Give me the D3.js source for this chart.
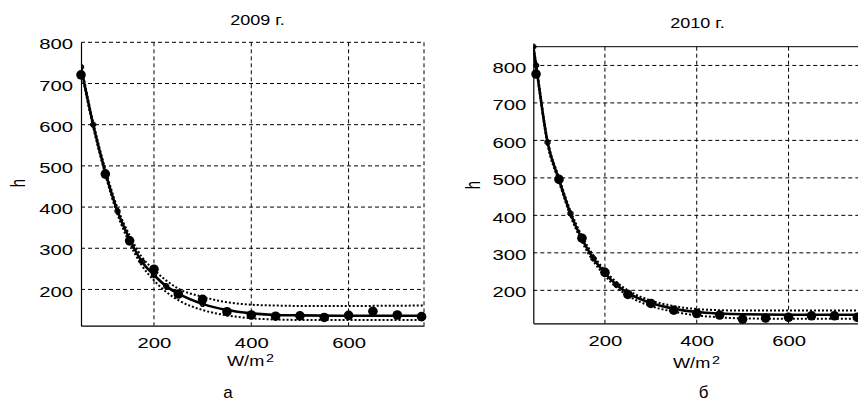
<!DOCTYPE html>
<html><head><meta charset="utf-8">
<script src="https://cdn.jsdelivr.net/npm/d3@7"></script>
<style>
body{margin:0;background:#fff;}
svg{display:block;font-family:"Liberation Sans",Arial,sans-serif;}
text{fill:#000;}
</style></head><body>
<svg id="c" width="858" height="403"></svg>
<script>
// ---------- data ----------
const xObs = [50,100,150,200,250,300,350,400,450,500,550,600,650,700,750];
const h2009 = [721,480,318,249,189,176,146,138,135,136,132,137,147,138,134];
const h2010 = [777,496,339,248,189,165,147,138,134,123,126,128,132,132,128];

const xFit2009 = [50,75,100,125,150,175,200,225,250,300,350,400,450,500,600,755];
const fit2009  = [740,600,485,390,322,268,235,208,190,165,150,142,138,137,136,136];
const up2009   = [746,606,492,398,331,279,248,222,202,182,169,163,161,160,160,161];
const lo2009   = [734,594,478,382,312,258,222,194,174,150,137,130,127,126,126,126];

const xFit2010 = [44,50,75,100,125,150,175,200,225,250,300,350,400,450,500,600,760];
const fit2010  = [850,800,595,495,405,337,285,246,215,193,166,151,142,138,136,135,135];
const up2010   = [856,806,601,501,412,345,293,253,222,200,173,158,150,147,146,146,146];
const lo2010   = [844,794,589,489,398,329,277,239,208,186,158,143,133,128,125,124,124];

const yTicks = [200,300,400,500,600,700,800];
const xTicks = [200,400,600];
const titles = ["2009 г.","2010 г."];
const captions = ["а","б"];
const yLabel = "h";

const svg = d3.select("#c");
const SX = 1.4;

function stext(g, x, y, str, size, anchor, sx){
  return g.append("text")
    .attr("transform", `translate(${x},${y}) scale(${sx},1)`)
    .attr("text-anchor", anchor).style("font-size", size+"px").text(str);
}

function panel(cfg){
  const g = svg.append("g");
  const x = d3.scaleLinear().domain(cfg.xDom).range([cfg.left, cfg.right]);
  const y = d3.scaleLinear().domain(cfg.yDom).range([cfg.bottom, cfg.top]);

  // grid
  g.append("g").selectAll("line").data(yTicks).join("line")
    .attr("x1", cfg.left).attr("x2", cfg.right)
    .attr("y1", d=>y(d)).attr("y2", d=>y(d))
    .attr("stroke","#000").attr("stroke-width",1).attr("stroke-dasharray","4,3");
  g.append("g").selectAll("line").data(xTicks).join("line")
    .attr("x1", d=>x(d)).attr("x2", d=>x(d))
    .attr("y1", cfg.top).attr("y2", cfg.bottom)
    .attr("stroke","#000").attr("stroke-width",1).attr("stroke-dasharray","4,3");

  // box edges
  if (cfg.rightDashed){
    g.append("line").attr("x1",cfg.right).attr("x2",cfg.right).attr("y1",cfg.top).attr("y2",cfg.bottom)
      .attr("stroke","#000").attr("stroke-dasharray","4,3");
  }
  if (cfg.topSolid){
    g.append("line").attr("x1",cfg.left).attr("x2",cfg.right).attr("y1",cfg.top).attr("y2",cfg.top)
      .attr("stroke","#000").attr("stroke-width",1);
  }

  // axes
  const ax = g.append("g").attr("transform",`translate(0,${cfg.bottom})`)
    .call(d3.axisBottom(x).tickValues(xTicks).tickSize(0).tickSizeOuter(0));
  ax.select(".domain").attr("stroke","#000").attr("stroke-width",1.2);
  ax.selectAll("text").attr("y",0).attr("dy",null)
    .attr("transform",`translate(0,${cfg.xLabDy}) scale(${SX},1)`)
    .style("font-size","14.5px").attr("font-family",null);

  const ay = g.append("g").attr("transform",`translate(${cfg.left},0)`)
    .call(d3.axisLeft(y).tickValues(yTicks).tickSize(0).tickSizeOuter(0));
  ay.select(".domain").attr("stroke","#000").attr("stroke-width",1.2);
  ay.selectAll("text").attr("x",0)
    .attr("transform",`translate(${-cfg.yLabGap},2) scale(${SX},1)`)
    .style("font-size","14.5px").attr("font-family",null);

  // curves
  const clip = "clip"+cfg.id;
  g.append("clipPath").attr("id",clip).append("rect")
    .attr("x",cfg.left).attr("y",cfg.top-4).attr("width",cfg.right-cfg.left+10).attr("height",cfg.bottom-cfg.top+4);
  const cg = g.append("g").attr("clip-path",`url(#${clip})`);
  const mk = arr => d3.line().x((d,i)=>x(cfg.xFit[i])).y(d=>y(d)).curve(d3.curveMonotoneX)(arr);
  [cfg.up, cfg.lo].forEach(a=>{
    cg.append("path").attr("d",mk(a)).attr("fill","none").attr("stroke","#000")
      .attr("stroke-width",2).attr("stroke-dasharray","2,2");
  });
  cg.append("path").attr("d",mk(cfg.fit)).attr("fill","none").attr("stroke","#000").attr("stroke-width",2.6);
  // small asterisk markers along the fitted curve (steep part)
  const star = cfg.xFit.map((xv,i)=>({xv, yv:cfg.fit[i]})).filter(d=>d.xv<=300);
  [d3.symbolCross, d3.symbolX].forEach(sym=>{
    cg.append("g").selectAll("path").data(star).join("path")
      .attr("transform",d=>`translate(${x(d.xv)},${y(d.yv)})`)
      .attr("d",d3.symbol().type(sym).size(14))
      .attr("fill","none").attr("stroke","#000").attr("stroke-width",1.2);
  });

  // observed points
  g.append("g").selectAll("circle").data(cfg.obs).join("circle")
    .attr("cx",(d,i)=>x(xObs[i])).attr("cy",d=>y(d)).attr("r",4.8).attr("fill","#000");

  // texts
  stext(g, cfg.titleX, cfg.titleY, cfg.title, 15, "middle", 1.2);
  stext(g, cfg.wX, cfg.wY, "W/m", 14.5, "start", 1.25);
  stext(g, cfg.wX + 39, cfg.wY - 4, "2", 11.5, "start", 1.25);
  g.append("text").attr("transform",`translate(${cfg.hX},${cfg.hY}) scale(${SX},1) rotate(-90)`)
    .attr("text-anchor","middle").style("font-size","15px").text(yLabel);
  g.append("text").attr("x",cfg.capX).attr("y",398).attr("text-anchor","middle")
    .style("font-size","17px").text(cfg.cap);
}

panel({id:"a", left:81, right:424, top:42.3, bottom:325.7, xDom:[50,755], yDom:[112,800],
  xFit:xFit2009, fit:fit2009, up:up2009, lo:lo2009, obs:h2009,
  rightDashed:true, topSolid:false, xLabDy:22.5, yLabGap:8,
  title:titles[0], titleX:257.5, titleY:25, wX:227, wY:366, hX:25, hY:183,
  cap:captions[0], capX:228});

panel({id:"b", left:533.3, right:862, top:46.7, bottom:323.3, xDom:[44,760], yDom:[112,850],
  xFit:xFit2010, fit:fit2010, up:up2010, lo:lo2010, obs:h2010,
  rightDashed:false, topSolid:true, xLabDy:22.5, yLabGap:7,
  title:titles[1], titleX:697.5, titleY:28, wX:673, wY:368, hX:480, hY:185,
  cap:captions[1], capX:703.5});
</script>
</body></html>
